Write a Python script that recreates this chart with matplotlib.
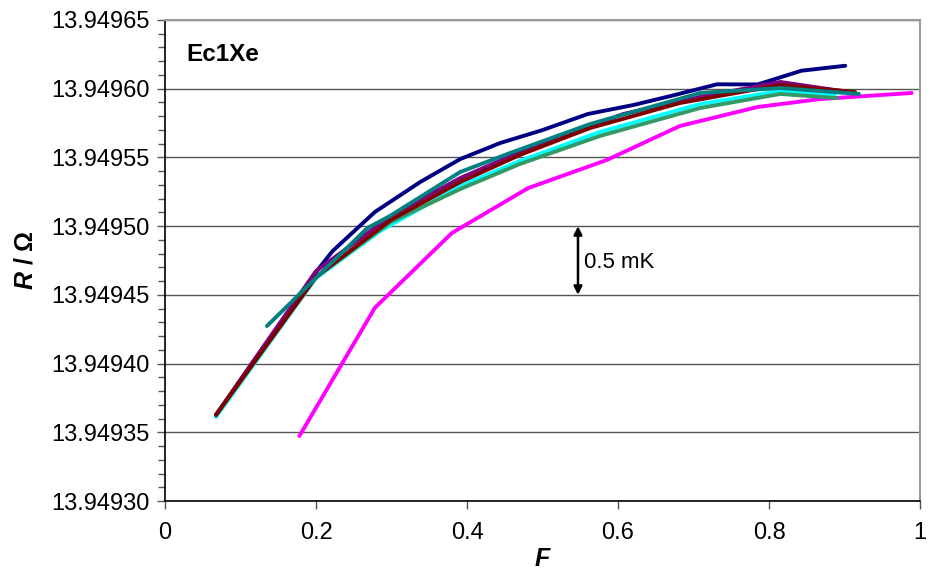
import matplotlib
matplotlib.use("Agg")
import matplotlib.pyplot as plt
from matplotlib.ticker import MultipleLocator, FuncFormatter

plt.rcParams['font.family'] = ['Liberation Sans', 'DejaVu Sans']
plt.rcParams['mathtext.fontset'] = 'custom'
plt.rcParams['mathtext.bfit'] = 'Liberation Sans:italic:bold'
plt.rcParams['mathtext.rm'] = 'Liberation Sans'

# ---- data ----
navy_F = [0.0675, 0.135, 0.200, 0.222, 0.278, 0.338, 0.391, 0.444, 0.500, 0.560, 0.620, 0.675, 0.731, 0.785, 0.843, 0.901]
navy_R = [13.9493625, 13.9494157, 13.9494666, 13.9494819, 13.9495103, 13.9495321, 13.9495488, 13.9495605,
          13.9495699, 13.9495816, 13.9495881, 13.9495954, 13.9496032, 13.9496031, 13.9496131, 13.9496167]

magenta_F = [0.178, 0.278, 0.380, 0.481, 0.585, 0.682, 0.785, 0.868, 0.989]
magenta_R = [13.9493473, 13.9494406, 13.9494950, 13.9495277, 13.9495481, 13.9495729, 13.9495867, 13.9495925, 13.9495969]

cyan_F = [0.0675, 0.200, 0.285, 0.391, 0.470, 0.576, 0.709, 0.815, 0.887]
cyan_R = [13.9493611, 13.9494623, 13.9494965, 13.9495292, 13.9495474, 13.9495685, 13.9495889, 13.9495983, 13.9495954]

green_F = [0.0675, 0.200, 0.299, 0.391, 0.470, 0.576, 0.709, 0.815, 0.890]
green_R = [13.9493626, 13.9494630, 13.9495030, 13.9495270, 13.9495452, 13.9495656, 13.9495860, 13.9495962, 13.9495932]

purple_F = [0.0675, 0.200, 0.299, 0.391, 0.470, 0.607, 0.709, 0.815, 0.914]
purple_R = [13.9493626, 13.9494673, 13.9495074, 13.9495350, 13.9495539, 13.9495816, 13.9495940, 13.9496049, 13.9495969]

darkred_F = [0.0675, 0.200, 0.299, 0.391, 0.470, 0.563, 0.682, 0.815, 0.914]
darkred_R = [13.9493626, 13.9494630, 13.9495045, 13.9495321, 13.9495518, 13.9495714, 13.9495896, 13.9496027, 13.9495976]

teal_F = [0.135, 0.208, 0.268, 0.298, 0.391, 0.457, 0.563, 0.709, 0.815, 0.919]
teal_R = [13.9494273, 13.9494666, 13.9494986, 13.9495074, 13.9495394, 13.9495532, 13.9495743, 13.9495969, 13.9496005, 13.9495962]

series = [
    (navy_F, navy_R, '#000080'),
    (magenta_F, magenta_R, '#FF00FF'),
    (cyan_F, cyan_R, '#00FFFF'),
    (green_F, green_R, '#339966'),
    (purple_F, purple_R, '#800080'),
    (darkred_F, darkred_R, '#800000'),
    (teal_F, teal_R, '#008080'),
]

title_text = "Ec1Xe"
note_text = "0.5 mK"
note_F = 0.547
note_R = (13.94950, 13.94945)

# ---- figure ----
fig = plt.figure(figsize=(9.3, 5.85), dpi=100)
ax = fig.add_axes([165/930, 1-501/585, (920-165)/930, (501-20)/585])

for F, R, c in series:
    ax.plot(F, R, color=c, lw=2.8, solid_capstyle='round', solid_joinstyle='round')

ax.set_xlim(0, 1)
ax.set_ylim(13.94930, 13.94965)
ax.xaxis.set_major_locator(MultipleLocator(0.2))
ax.yaxis.set_major_locator(MultipleLocator(0.00005))
ax.yaxis.set_minor_locator(MultipleLocator(0.00001))
ax.yaxis.set_major_formatter(FuncFormatter(lambda v, p: f"{v:.5f}"))
ax.xaxis.set_major_formatter(FuncFormatter(lambda v, p: "0" if abs(v) < 1e-9 else ("1" if abs(v-1) < 1e-9 else f"{v:.1f}")))

ax.grid(axis='y', which='major', color='#555555', lw=1.0)
ax.set_axisbelow(True)
ax.tick_params(axis='both', which='major', labelsize=17, direction='out', length=6, width=1, color='#555555')
ax.tick_params(axis='y', which='minor', direction='out', length=5, width=1, color='#555555')
ax.tick_params(axis='y', pad=5)
ax.tick_params(axis='x', pad=9)

for s in ['left', 'bottom']:
    ax.spines[s].set_color('#000000')
    ax.spines[s].set_linewidth(1.2)
for s in ['top', 'right']:
    ax.spines[s].set_color('#999999')
    ax.spines[s].set_linewidth(1.5)

ax.set_xlabel(r'$\mathbfit{F}$', fontsize=18, labelpad=2)
ax.set_ylabel(r'$\mathbfit{R}$ / Ω', fontsize=18, fontweight='bold', labelpad=10)

ax.text(0.028, 0.928, title_text, transform=ax.transAxes, fontsize=17.5, fontweight='bold', va='center', ha='left')

ax.annotate('', xy=(note_F, note_R[0]), xytext=(note_F, note_R[1]),
            arrowprops=dict(arrowstyle='<|-|>', color='black', lw=1.8, mutation_scale=12, shrinkA=0, shrinkB=0))
ax.text(note_F + 0.008, (note_R[0] + note_R[1]) / 2 - 0.0000015, note_text, fontsize=16, va='center', ha='left')

fig.savefig('out.png', dpi=100)
